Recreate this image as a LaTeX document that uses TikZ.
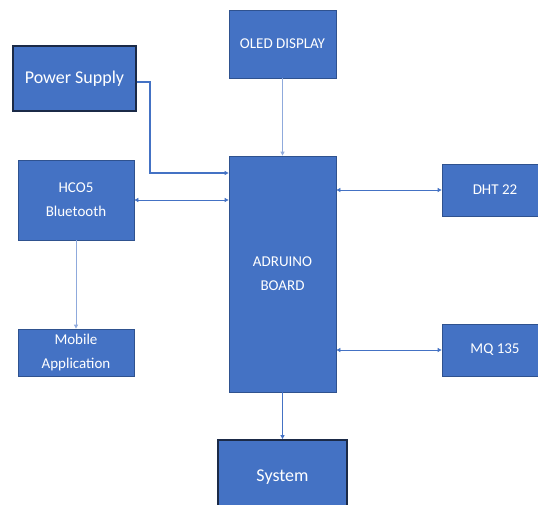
\documentclass[tikz,border=0pt]{standalone}
\usepackage{fontspec}
\setmainfont{Carlito}
\usetikzlibrary{arrows.meta, positioning}
\definecolor{officeblue}{HTML}{4472C4}
\definecolor{edgeblue}{HTML}{2F528F}
\definecolor{navy}{HTML}{1B2A47}
\definecolor{paleblue}{HTML}{8FAADC}

\begin{document}
\begin{tikzpicture}[x=1pt, y=-1pt, >={Triangle[length=4pt,width=4pt]},
    block/.style={draw=edgeblue, line width=0.8pt, fill=officeblue, text=white,
      font=\fontsize{15}{24}\selectfont, align=center, inner sep=0pt},
    bigblock/.style={block, draw=navy, line width=1.8pt, font=\fontsize{18}{22}\selectfont},
    link/.style={officeblue, line width=0.8pt},
    thinlink/.style={paleblue, line width=1pt},
    mainlink/.style={officeblue, line width=1.6pt}]
  \useasboundingbox (0,0) rectangle (538,505);
  % blocks
  \node[bigblock, minimum width=123pt, minimum height=65pt] (power) at (74.5,78.5) {Power Supply};
  \node[block, minimum width=107pt, minimum height=68pt] (oled) at (282.5,44) {OLED DISPLAY};
  \node[block, minimum width=107pt, minimum height=236pt] (board) at (282.5,274) {ADRUINO\\BOARD};
  \node[block, minimum width=116pt, minimum height=80pt] (hc) at (76,200) {HCO5\\Bluetooth};
  \node[block, minimum width=116pt, minimum height=47pt] (mobile) at (76,352.5) {Mobile\\Application};
  \node[block, minimum width=106pt, minimum height=52pt] (dht) at (495,190) {DHT 22};
  \node[block, minimum width=106pt, minimum height=52pt] (mq) at (495,350) {MQ 135};
  \node[bigblock, minimum width=129pt, minimum height=75pt] (system) at (282.5,477.5) {System};
  % connectors
  \draw[mainlink, ->] (power.east |- 0,82) -| (150,173) -- (board.west |- 0,173);
  \draw[thinlink, ->] (oled) -- (board);
  \draw[link, <->] (hc.east |- 0,200) -- (board.west |- 0,200);
  \draw[thinlink, ->] (hc) -- (mobile);
  \draw[link, <->] (board.east |- 0,190) -- (dht.west |- 0,190);
  \draw[link, <->] (board.east |- 0,350) -- (mq.west |- 0,350);
  \draw[mainlink, ->] (board) -- (system);
\end{tikzpicture}
\end{document}
